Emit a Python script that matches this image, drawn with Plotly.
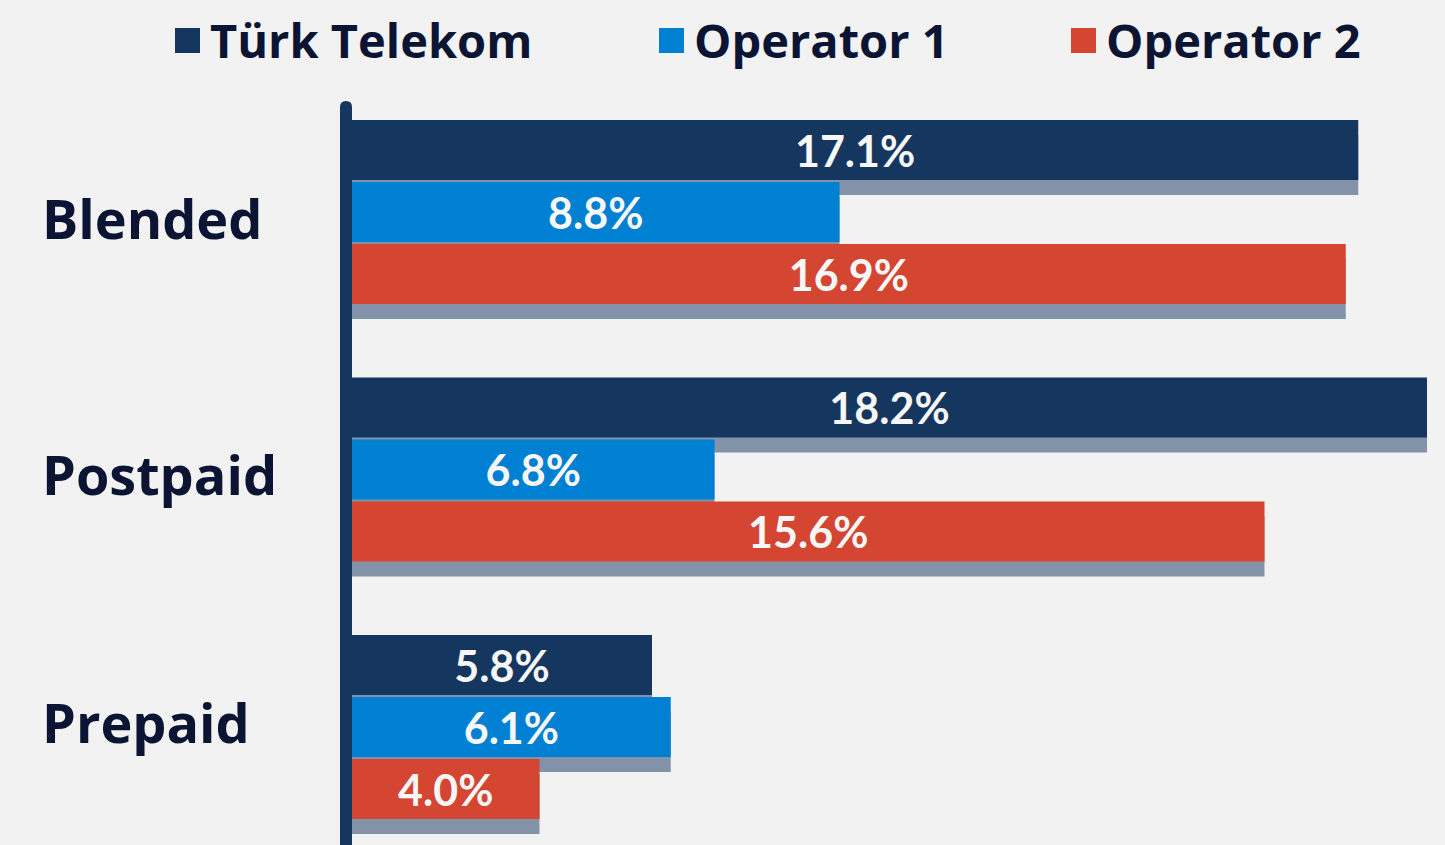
import plotly.graph_objects as go

# ---- data ----
categories = ["Blended", "Postpaid", "Prepaid"]
series_names = ["Türk Telekom", "Operator 1", "Operator 2"]
turk_telekom = [17.1, 18.2, 5.8]
operator_1 = [8.8, 6.8, 6.1]
operator_2 = [16.9, 15.6, 4.0]
series_values = [turk_telekom, operator_1, operator_2]

# ---- style ----
W, H = 1445, 845
colors = ["#15365F", "#0080D2", "#D44532"]
shadow_color = "#8293A9"
bg = "#F2F2F2"
text_dark = "#0B1533"
label_font = "'Open Sans', Lato, sans-serif"
value_font = "Lato, 'Open Sans', sans-serif"

BAR_BASE = 1.0            # bars start at this axis value
px_per_unit_x = 62.5
axis_px = 352             # pixel where BAR_BASE sits
x_min = BAR_BASE - axis_px / px_per_unit_x
x_max = BAR_BASE + (W - axis_px) / px_per_unit_x

cat_pitch_px = 257.5
first_center_px = 212
y_top = -first_center_px / cat_pitch_px
y_bottom = (H - first_center_px) / cat_pitch_px

bar_px, bar_pitch_px, shadow_px = 60, 62, 15
bw = bar_px / cat_pitch_px
ypos = list(range(len(categories)))
label_nudge_px = [6, 4, -5]

fig = go.Figure()

# shadows first
for i, vals in enumerate(series_values):
    off = ((i - 1) * bar_pitch_px - bar_px / 2 + shadow_px) / cat_pitch_px
    fig.add_trace(go.Bar(
        y=ypos, x=[v - BAR_BASE for v in vals], base=BAR_BASE,
        orientation="h", width=bw, offset=off,
        marker=dict(color=shadow_color, line=dict(width=0)),
        hoverinfo="skip", showlegend=False,
    ))

# main bars
for i, (name, vals) in enumerate(zip(series_names, series_values)):
    off = ((i - 1) * bar_pitch_px - bar_px / 2) / cat_pitch_px
    fig.add_trace(go.Bar(
        name=name, y=ypos, x=[v - BAR_BASE for v in vals], base=BAR_BASE,
        orientation="h", width=bw, offset=off,
        marker=dict(color=colors[i], line=dict(width=0)),
        text=[f"{v:.1f}%" for v in vals],
        textposition="inside", insidetextanchor="middle", textangle=0,
        constraintext="none",
        insidetextfont=dict(family=value_font, size=43, color="#F7F7F7", weight=700),
        customdata=vals,
        hovertemplate="%{customdata:.1f}%<extra>" + name + "</extra>",
        showlegend=False,
    ))

shapes = []
annotations = []


def px2x(p):
    return p / W


def px2y(p):
    return 1 - p / H


# vertical axis bar with rounded top
x0, x1, ytop, r = 340, 352, 101, 6
path = (f"M {px2x(x0)},{px2y(H)} L {px2x(x0)},{px2y(ytop + r)} "
        f"Q {px2x(x0)},{px2y(ytop)} {px2x((x0 + x1) / 2)},{px2y(ytop)} "
        f"Q {px2x(x1)},{px2y(ytop)} {px2x(x1)},{px2y(ytop + r)} "
        f"L {px2x(x1)},{px2y(H)} Z")
shapes.append(dict(type="path", path=path, xref="paper", yref="paper",
                   fillcolor=colors[0], line=dict(width=0), layer="above"))

# category labels
for i, c in enumerate(categories):
    annotations.append(dict(text=c, xref="paper", yref="y", x=px2x(40),
                            y=i + label_nudge_px[i] / cat_pitch_px,
                            xanchor="left", yanchor="middle", showarrow=False,
                            font=dict(family=label_font, size=54, color=text_dark, weight=700)))

# legend
legend_sq_x = [175, 659, 1071]
for i, name in enumerate(series_names):
    sx = legend_sq_x[i]
    shapes.append(dict(type="rect", xref="paper", yref="paper",
                       x0=px2x(sx), x1=px2x(sx + 25), y0=px2y(53), y1=px2y(28),
                       fillcolor=colors[i], line=dict(width=0)))
    annotations.append(dict(text=name, xref="paper", yref="paper",
                            x=px2x(sx + 33), y=px2y(40), xanchor="left", yanchor="middle",
                            showarrow=False,
                            font=dict(family=label_font, size=47, color=text_dark, weight=700)))

fig.update_layout(
    width=W, height=H,
    margin=dict(l=0, r=0, t=0, b=0, autoexpand=False),
    paper_bgcolor=bg, plot_bgcolor=bg,
    barmode="overlay",
    showlegend=False,
    xaxis=dict(range=[x_min, x_max], visible=False, fixedrange=True),
    yaxis=dict(range=[y_bottom, y_top], visible=False, fixedrange=True),
    shapes=shapes, annotations=annotations,
    font=dict(family=label_font),
)

fig.write_html("out.html", config={"displayModeBar": False},
               post_script="document.body.style.margin='0';")
